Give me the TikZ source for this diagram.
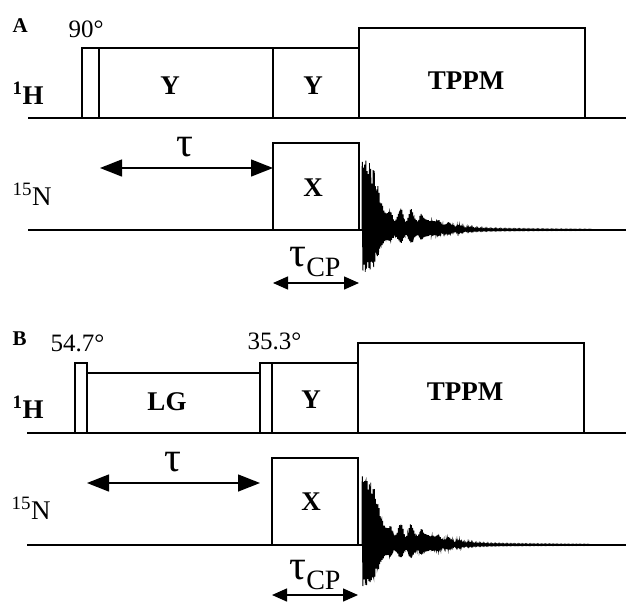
\documentclass[tikz,border=0pt]{standalone}
\usepackage{fontspec}
\setmainfont{Liberation Serif}
\usetikzlibrary{arrows.meta}
\begin{document}
\begin{tikzpicture}[x=1pt,y=-1pt, line width=1.4pt,
  lbl/.style={inner sep=0pt, anchor=base, font=\fontsize{27}{27}\selectfont\bfseries},
  panel/.style={inner sep=0pt, anchor=base west, font=\fontsize{21}{21}\selectfont\bfseries},
  angle/.style={inner sep=0pt, anchor=base west, font=\fontsize{25}{25}\selectfont},
  nuc/.style={inner sep=0pt, anchor=base west, font=\fontsize{27}{27}\selectfont},
  taulbl/.style={inner sep=0pt, anchor=base, font=\fontsize{42}{42}\selectfont},
  bigarr/.style={{Triangle[length=22pt,width=17pt]}-{Triangle[length=22pt,width=17pt]}},
  smallarr/.style={{Triangle[length=15pt,width=13pt]}-{Triangle[length=15pt,width=13pt]}},
  fid/.style={line width=0.9pt},
  declare function={
    envl(\t)=66*exp(-min((\t/18)^3,9))*(0.7+0.3*abs(cos(\t*45)))
             +20*exp(-min(((\t-42)/42)^2,9))*(0.45+0.55*abs(cos(\t*15-30)))*(0.8+0.2*cos(\t*37))
             +3*exp(-min(\t/150,9));
    sn(\t)=sin(mod(\t,36)*300);
    fidv(\t)=envl(\t)*(0.8*sn(\t)+0.2*abs(sn(\t)));
  }]
\useasboundingbox (0,0) rectangle (626,603);

% ================= Panel A =================
\node[panel] (A) at (12,32) {A};
\node[angle] (a90) at (68,37) {90°};
\node[nuc] (aH) at (12,104) {\textbf{\textsuperscript{1}H}};
\node[nuc] (aN) at (12,205) {\textsuperscript{15}N};

% 1H channel
\draw (28,118) -- (626,118);
\draw (82,118) rectangle (99,48);
\draw (99,118) rectangle (273,48);
\draw (273,118) rectangle (359,48);
\draw (359,118) rectangle (585,28);
\node[lbl] (aY1) at (170,94) {Y};
\node[lbl] (aY2) at (313,94) {Y};
\node[lbl] (aT) at (466,89) {TPPM};

% 15N channel
\draw (28,230) -- (626,230);
\draw (273,230) rectangle (359,143);
\node[lbl] (aX) at (313,196) {X};
\coordinate (aTl) at (100,168);
\coordinate (aTr) at (273,168);
\draw[bigarr] (aTl) -- (aTr);
\node[taulbl] (atau) at (185,156) {τ};
\coordinate (aCl) at (273,283);
\coordinate (aCr) at (359,283);
\draw[smallarr] (aCl) -- (aCr);
\node[taulbl] (atcp) at (315,266) {τ\raisebox{-10pt}{\fontsize{28}{28}\selectfont CP}};
\draw[fid, shift={(362,230)}] plot[domain=0:230, samples=1200] (\x, {-fidv(\x)});

% ================= Panel B =================
\node[panel] (B) at (12,345) {B};
\node[angle] (b54) at (50,351) {54.7°};
\node[angle] (b35) at (247,349) {35.3°};
\node[nuc] (bH) at (12,418) {\textbf{\textsuperscript{1}H}};
\node[nuc] (bN) at (11,519) {\textsuperscript{15}N};

% 1H channel
\draw (27,433) -- (626,433);
\draw (75,433) rectangle (87,363);
\draw (87,433) rectangle (260,373);
\draw (260,433) rectangle (272,363);
\draw (272,433) rectangle (358,363);
\draw (358,433) rectangle (584,343);
\node[lbl] (bLG) at (167,410) {LG};
\node[lbl] (bY) at (311,408) {Y};
\node[lbl] (bT) at (465,400) {TPPM};

% 15N channel
\draw (27,545) -- (626,545);
\draw (272,545) rectangle (358,458);
\node[lbl] (bX) at (311,510) {X};
\coordinate (bTl) at (87,483);
\coordinate (bTr) at (260,483);
\draw[bigarr] (bTl) -- (bTr);
\node[taulbl] (btau) at (173,471) {τ};
\coordinate (bCl) at (272,595);
\coordinate (bCr) at (358,595);
\draw[smallarr] (bCl) -- (bCr);
\node[taulbl] (btcp) at (315,579) {τ\raisebox{-10pt}{\fontsize{28}{28}\selectfont CP}};
\draw[fid, shift={(362,545)}] plot[domain=0:228, samples=1200] (\x, {-fidv(\x)});
\end{tikzpicture}
\end{document}
